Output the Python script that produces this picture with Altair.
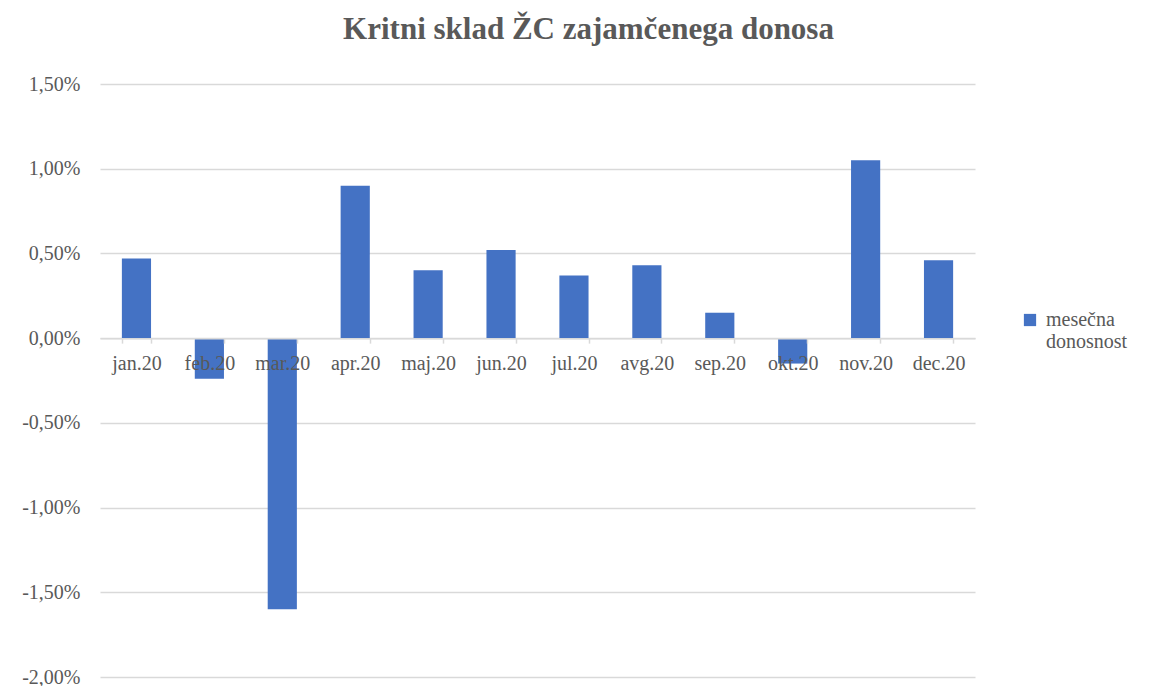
import altair as alt
import pandas as pd

months = ["jan.20", "feb.20", "mar.20", "apr.20", "maj.20", "jun.20",
          "jul.20", "avg.20", "sep.20", "okt.20", "nov.20", "dec.20"]
values = [0.0047, -0.0024, -0.0160, 0.0090, 0.0040, 0.0052,
          0.0037, 0.0043, 0.0015, -0.0015, 0.0105, 0.0046]
series_name = "mesečna donosnost"
y_ticks = [-0.02, -0.015, -0.01, -0.005, 0.0, 0.005, 0.01, 0.015]

df = pd.DataFrame({"mesec": months, "donos": values, "serija": [series_name] * len(months)})

W, H = 875, 593
FONT = "Liberation Serif"
GRAY = "#595959"

legend = alt.Legend(orient="none", legendX=920, legendY=226,
                    symbolType="square", symbolSize=150,
                    symbolStrokeWidth=0,
                    labelFont=FONT, labelFontSize=20, labelColor=GRAY,
                    labelExpr="split(datum.label, ' ')",
                    labelOffset=6)

bars = alt.Chart(df).mark_bar(color="#4472C4").encode(
    x=alt.X("mesec:N", sort=months, title=None,
            scale=alt.Scale(paddingInner=0.6, paddingOuter=0.3),
            axis=alt.Axis(orient="bottom", offset=-(H * 2.0 / 3.5), labelAngle=0,
                          labelFont=FONT, labelFontSize=20, labelColor=GRAY,
                          labelPadding=10, domainColor="#d9d9d9", domainWidth=1.5,
                          tickColor="#d9d9d9", tickWidth=1.5, tickSize=5,
                          tickBand="extent", zindex=1)),
    y=alt.Y("donos:Q", title=None,
            scale=alt.Scale(domain=[-0.02, 0.015], nice=False, zero=False),
            axis=alt.Axis(values=y_ticks,
                          labelExpr="replace(replace(format(datum.value, '.2%'), '.', ','), '\u2212', '-')",
                          labelFont=FONT, labelFontSize=20, labelColor=GRAY,
                          labelPadding=20, ticks=False, domain=False,
                          gridColor="#d9d9d9", gridWidth=1.5)),
    color=alt.Color("serija:N", title=None,
                    scale=alt.Scale(domain=[series_name], range=["#4472C4"]),
                    legend=legend),
)

chart = bars.properties(
    width=W, height=H,
    title=alt.TitleParams("Kritni sklad ŽC zajamčenega donosa", font=FONT,
                          fontSize=31, fontWeight="bold", color=GRAY,
                          anchor="middle", offset=28, dx=51),
    autosize=alt.AutoSizeParams(type="none"),
    padding={"left": 92, "top": 76, "right": 175, "bottom": 12},
).configure_view(stroke=None)

chart.save("out.html", embed_options={"renderer": "svg", "actions": False})
